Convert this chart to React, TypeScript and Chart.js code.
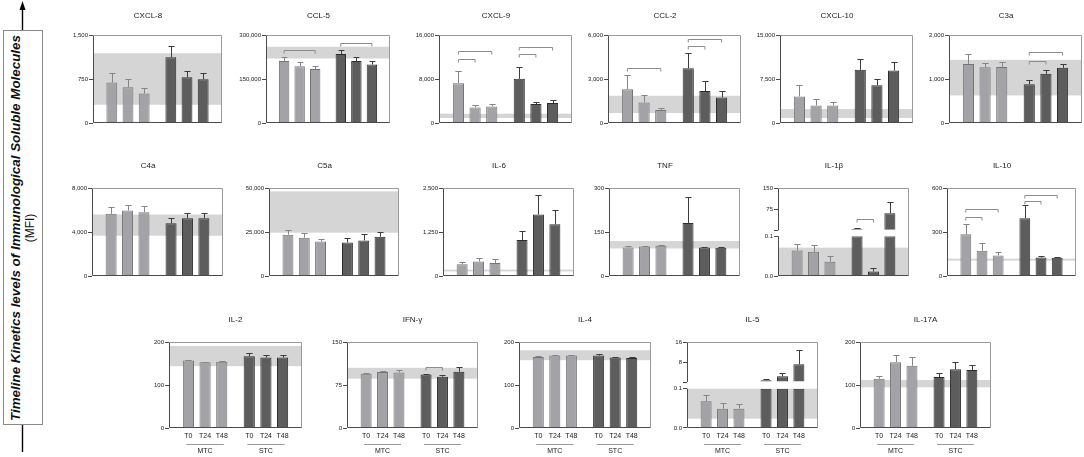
import React, { useEffect, useRef } from "react";
import { Chart, registerables } from "chart.js";

Chart.register(...registerables);

const FONT = '"Liberation Sans", Arial, Helvetica, sans-serif';
Chart.defaults.font.family = FONT;

// ---------------- data ----------------
const PANEL_NAMES = [
  "CXCL-8", "CCL-5", "CXCL-9", "CCL-2", "CXCL-10", "C3a",
  "C4a", "C5a", "IL-6", "TNF", "IL-1β", "IL-10",
  "IL-2", "IFN-γ", "IL-4", "IL-5", "IL-17A",
];
const TIME_LABELS = ["T0", "T24", "T48", "T0", "T24", "T48"];
const GROUP_LABELS = ["MTC", "STC"];
const X_POS = [0, 1, 2, 3.65, 4.65, 5.65];

const MTC_MEAN = [
  [690, 611, 504],
  [211700, 193600, 184500],
  [7245, 2838, 3019],
  [2309, 1404, 883],
  [4528, 3000, 3000],
  [1343, 1268, 1275],
  [5649, 5954, 5802],
  [23473, 21756, 19656],
  [334, 410, 372],
  [97.3, 100.8, 103],
  [0.0639, 0.0607, 0.036],
  [284, 172, 140],
  [156.9, 153, 153.8],
  [94.6, 97.5, 96.9],
  [165.4, 168.5, 168.5],
  [0.0678, 0.0492, 0.0492],
  [114.6, 153, 144.6],
];
const MTC_SD = [
  [159, 147, 90],
  [12450, 14700, 10200],
  [2295, 422, 423],
  [974, 475, 136],
  [1868, 1019, 509],
  [227, 106, 106],
  [580, 489, 519],
  [2672, 2671, 1527],
  [67, 105, 115],
  [3.5, 2.2, 2],
  [0.0164, 0.0172, 0.0132],
  [73, 50, 25],
  [1.6, 1.6, 1.6],
  [1.2, 1.2, 3.5],
  [1.6, 2.3, 2.3],
  [0.0152, 0.0144, 0.0127],
  [6.9, 17, 20.8],
];
const STC_MEAN = [
  [1121, 781, 747],
  [235500, 211700, 199200],
  [8030, 3442, 3623],
  [3736, 2174, 1743],
  [9057, 6453, 8943],
  [883, 1117, 1253],
  [4794, 5252, 5252],
  [19084, 20229, 22328],
  [1021, 1746, 1469],
  [181, 97.3, 96.2],
  [0.1, 0.0115, 0.1],
  [394, 126, 124],
  [166.9, 163.8, 163.8],
  [93.5, 89.4, 98.1],
  [168.5, 163.8, 163],
  [0.1, 0.1, 0.1],
  [118.5, 136.9, 134.6],
];
const STC_SD = [
  [198, 108, 102],
  [13500, 13600, 12500],
  [2234, 422, 603],
  [1019, 679, 453],
  [1868, 1132, 1529],
  [98, 91, 90],
  [519, 519, 458],
  [2481, 3435, 2672],
  [267, 544, 406],
  [88, 1.2, 1.1],
  [0, 0.0082, 0],
  [87, 11, 6],
  [6.9, 5.4, 6.2],
  [1.1, 2.9, 8.1],
  [4.5, 2.2, 1.6],
  [0, 0, 0],
  [8.5, 16.9, 12.3],
];
// values above the axis break (IL-1β, IL-5)
const STC_UPPER_MEAN: any[] = [
  null, null, null, null, null, null,
  null, null, null, null, [5.8, null, 61], null,
  null, null, null, [0.67, 2.27, 7.07], null,
];
const STC_UPPER_SD: any[] = [
  null, null, null, null, null, null,
  null, null, null, null, [2.2, 0, 38], null,
  null, null, null, [0.4, 1.33, 5.6], null,
];
const Y_TICKS = [
  [0, 750, 1500],
  [0, 150000, 300000],
  [0, 8000, 16000],
  [0, 3000, 6000],
  [0, 7500, 15000],
  [0, 1000, 2000],
  [0, 4000, 8000],
  [0, 25000, 50000],
  [0, 1250, 2500],
  [0, 150, 300],
  [0, 0.1],
  [0, 300, 600],
  [0, 100, 200],
  [0, 75, 150],
  [0, 100, 200],
  [0, 0.1],
  [0, 100, 200],
];
const UPPER_TICKS: any[] = [
  null, null, null, null, null, null,
  null, null, null, null, [0, 75, 150], null,
  null, null, null, [0, 8, 16], null,
];
const BAND_RANGE = [
  [311, 1189],
  [220000, 260000],
  [905, 1690],
  [679, 1857],
  [849, 2377],
  [626, 1434],
  [3664, 5588],
  [24618, 48092],
  [130, 180],
  [94, 119],
  [0, 0.0713],
  [105, 118],
  [143.8, 190.8],
  [86, 105],
  [157.7, 180.8],
  [0.0237, 0.1],
  [94.6, 111.5],
];
// [fromBar, toBar, level, onUpperAxis]
const BRACKETS: number[][][] = [
  [],
  [[0, 2, 249000], [3, 5, 271700]],
  [[0, 1, 11592], [0, 2, 13162], [3, 4, 12498], [3, 5, 13887]],
  [[0, 2, 3736], [3, 4, 5253], [3, 5, 5751]],
  [],
  [[3, 4, 1419], [3, 5, 1623]],
  [], [], [], [],
  [[3, 4, 39, 1]],
  [[0, 1, 405], [0, 2, 456], [3, 4, 513], [3, 5, 554]],
  [],
  [[3, 4, 105.6]],
  [], [], [],
];

// ---------------- layout / style ----------------
const PANEL_BOX = [
  [93, 35, 129, 88], [266, 35, 124, 88], [439, 35, 133, 88], [608, 35, 133, 88], [780, 35, 133, 88], [949, 35, 133, 88],
  [92, 188, 131, 88], [269, 188, 130, 88], [443, 188, 131, 88], [609, 188, 131, 88], [778, 188, 131, 88], [947, 188, 129, 88],
  [169, 342, 133, 86], [347, 342, 131, 86], [519, 342, 132, 86], [687, 342, 131, 86], [860, 342, 131, 86],
];
// lower part, gap, upper part (relative heights) for broken axes
const BREAK_SPLIT: any[] = [
  null, null, null, null, null, null,
  null, null, null, null, [122, 18, 130], null,
  null, null, null, [118, 20, 120], null,
];
const TITLE_DY = [19.5, 22.5, 22];
const TITLE_DX = [-9.5, -9.5, 0];
const AXIS_W = 30;
const TOP_PAD = 28;
const RIGHT_PAD = 4;
const BOTTOM_PAD = 8;
const BOTTOM_PAD_LAST = 28;

const LIGHT_FILL = "#a3a3a7";
const LIGHT_EDGE = "#747474";
const LIGHT_ERR = "#858585";
const DARK_FILL = "#5d5d5d";
const DARK_EDGE = "#2c2c2c";
const DARK_ERR = "#3c3c3c";
const BAND = "#d5d5d5";
const FRAME_LIGHT = "#9a9a9a";
const AXIS = "#4a4a4a";
const BRACKET_C = "#8c8c8c";
const TEXT = "#1a1a1a";

const rowOf = (i: number) => (i < 6 ? 0 : i < 12 ? 1 : 2);
const fmt = (v: number, max: number) => (max < 1 ? v.toFixed(1) : v.toLocaleString("en-US"));

function makePlugin(i: number) {
  const row = rowOf(i);
  return {
    id: "decor" + i,
    beforeDatasetsDraw(chart: any) {
      const { ctx, chartArea: a, scales } = chart;
      const y = scales.y;
      const lo = y.getPixelForValue(BAND_RANGE[i][0]);
      const hi = y.getPixelForValue(BAND_RANGE[i][1]);
      ctx.save();
      ctx.fillStyle = BAND;
      ctx.fillRect(a.left, hi, a.right - a.left, lo - hi);
      ctx.restore();
    },
    afterDatasetsDraw(chart: any) {
      const { ctx, scales } = chart;
      ctx.save();
      ctx.lineWidth = 1;
      chart.data.datasets.forEach((ds: any, di: number) => {
        const meta = chart.getDatasetMeta(di);
        const scale = scales[ds.yAxisID];
        meta.data.forEach((el: any, k: number) => {
          const m = ds.data[k].y;
          const sd = ds.errors ? ds.errors[k] : 0;
          if (m == null || !sd) return;
          const top = Math.round(scale.getPixelForValue(m + sd)) + 0.5;
          const x = Math.round(el.x) + 0.5;
          const half = el.width * 0.28;
          ctx.strokeStyle = ds.errColor;
          ctx.beginPath();
          ctx.moveTo(x, el.y);
          ctx.lineTo(x, top);
          ctx.moveTo(x - half, top);
          ctx.lineTo(x + half, top);
          ctx.stroke();
        });
      });
      ctx.strokeStyle = BRACKET_C;
      BRACKETS[i].forEach((b) => {
        const sc = b[3] ? scales.yUp : scales.y;
        const x1 = scales.x.getPixelForValue(X_POS[b[0]]);
        const x2 = scales.x.getPixelForValue(X_POS[b[1]]);
        const yy = Math.round(sc.getPixelForValue(b[2])) + 0.5;
        ctx.beginPath();
        ctx.moveTo(x1, yy + 3);
        ctx.lineTo(x1, yy);
        ctx.lineTo(x2, yy);
        ctx.lineTo(x2, yy + 3);
        ctx.stroke();
      });
      ctx.restore();
    },
    afterDraw(chart: any) {
      const { ctx, chartArea: a, scales } = chart;
      ctx.save();
      ctx.lineWidth = 1;
      const L = Math.round(a.left) + 0.5;
      const R = Math.round(a.right) - 0.5;
      const T = Math.round(a.top) + 0.5;
      const B = Math.round(a.bottom) - 0.5;
      ctx.strokeStyle = FRAME_LIGHT;
      ctx.beginPath();
      ctx.moveTo(L, T);
      ctx.lineTo(R, T);
      ctx.lineTo(R, B);
      ctx.stroke();
      ctx.strokeStyle = AXIS;
      ctx.beginPath();
      ctx.moveTo(L, B);
      ctx.lineTo(R, B);
      if (scales.yUp) {
        ctx.moveTo(L, B);
        ctx.lineTo(L, scales.y.getPixelForValue(Y_TICKS[i][Y_TICKS[i].length - 1]));
        ctx.moveTo(L, scales.yUp.getPixelForValue(0));
        ctx.lineTo(L, T);
      } else {
        ctx.moveTo(L, B);
        ctx.lineTo(L, T);
      }
      ctx.stroke();
      // title
      ctx.fillStyle = TEXT;
      ctx.font = `8px ${FONT}`;
      ctx.textAlign = "center";
      ctx.textBaseline = "middle";
      ctx.fillText(PANEL_NAMES[i], (a.left + a.right) / 2 + TITLE_DX[row], a.top - TITLE_DY[row]);
      // time-point labels and group labels (bottom row)
      if (row === 2) {
        ctx.font = `7px ${FONT}`;
        TIME_LABELS.forEach((t, k) => {
          ctx.fillText(t, scales.x.getPixelForValue(X_POS[k]), a.bottom + 8);
        });
        ctx.strokeStyle = "#9a9a9a";
        GROUP_LABELS.forEach((g, gi) => {
          const x1 = scales.x.getPixelForValue(X_POS[gi * 3]) - 2;
          const x2 = scales.x.getPixelForValue(X_POS[gi * 3 + 2]) + 2;
          const yy = Math.round(a.bottom + 16) + 0.5;
          ctx.beginPath();
          ctx.moveTo(x1, yy);
          ctx.lineTo(x2, yy);
          ctx.stroke();
          ctx.fillText(g, (x1 + x2) / 2, a.bottom + 22.8);
        });
      }
      ctx.restore();
    },
  };
}

function yAxis(ticks: number[], min: number, max: number, extra: any) {
  return {
    type: "linear",
    position: "left",
    min,
    max,
    grid: { drawOnChartArea: false, tickLength: 4, color: AXIS, lineWidth: 1 },
    border: { display: false },
    ticks: {
      font: { size: 6, family: FONT },
      color: TEXT,
      padding: 1,
      autoSkip: false,
      maxRotation: 0,
      callback: (v: number) => (v === 0 && extra.blankZero ? "" : fmt(v, max)),
    },
    afterBuildTicks: (s: any) => {
      s.ticks = ticks.map((v) => ({ value: v }));
    },
    afterFit: (s: any) => {
      s.width = AXIS_W;
    },
    ...(extra.stack || {}),
  };
}

function buildConfig(i: number): any {
  const upper = STC_UPPER_MEAN[i];
  const pts = (xs: number[], ys: (number | null)[]) => xs.map((x, k) => ({ x, y: ys[k] }));
  const bar = (label: string, data: any[], fill: string, edge: string, errColor: string, errors: any, axis: string) => ({
    type: "bar",
    label,
    data,
    backgroundColor: fill,
    borderColor: edge,
    borderWidth: 1,
    grouped: false,
    barPercentage: 0.67,
    categoryPercentage: 1,
    yAxisID: axis,
    errors,
    errColor,
  });
  const datasets: any[] = [
    bar("MTC", pts(X_POS.slice(0, 3), MTC_MEAN[i]), LIGHT_FILL, LIGHT_EDGE, LIGHT_ERR, MTC_SD[i], "y"),
    bar("STC", pts(X_POS.slice(3), STC_MEAN[i]), DARK_FILL, DARK_EDGE, DARK_ERR, STC_SD[i], "y"),
  ];
  const yt = Y_TICKS[i];
  const yMax = yt[yt.length - 1];
  const scales: any = {
    x: {
      type: "linear",
      min: -0.5,
      max: 6.15,
      grid: { display: false },
      border: { display: false },
      ticks: { display: false },
      afterBuildTicks: (s: any) => {
        s.ticks = X_POS.map((v) => ({ value: v }));
      },
      afterFit: (s: any) => {
        s.height = 0;
      },
    },
  };
  if (upper) {
    const [lw, gw, uw] = BREAK_SPLIT[i];
    const ut = UPPER_TICKS[i];
    const uMax = ut[ut.length - 1];
    const uMin = (-gw / uw) * uMax;
    scales.y = yAxis(yt, 0, yMax, { stack: { stack: "brk", stackWeight: lw } });
    scales.yUp = yAxis(ut, uMin, uMax, { blankZero: true, stack: { stack: "brk", stackWeight: gw + uw } });
    datasets.push(bar("STC upper", pts(X_POS.slice(3), upper), DARK_FILL, DARK_EDGE, DARK_ERR, STC_UPPER_SD[i], "yUp"));
  } else {
    scales.y = yAxis(yt, 0, yMax, {});
  }
  return {
    type: "bar",
    data: { datasets },
    options: {
      responsive: false,
      animation: false,
      events: [],
      layout: {
        padding: {
          top: TOP_PAD,
          left: 0,
          right: RIGHT_PAD,
          bottom: rowOf(i) === 2 ? BOTTOM_PAD_LAST : BOTTOM_PAD,
        },
      },
      plugins: { legend: { display: false }, tooltip: { enabled: false }, title: { display: false } },
      scales,
    },
    plugins: [makePlugin(i)],
  };
}

function Panel({ i }: { i: number }) {
  const ref = useRef<HTMLCanvasElement>(null);
  const [pl, pt, pw, ph] = PANEL_BOX[i];
  const row = rowOf(i);
  const w = pw + AXIS_W + RIGHT_PAD;
  const h = ph + TOP_PAD + (row === 2 ? BOTTOM_PAD_LAST : BOTTOM_PAD);
  useEffect(() => {
    const chart = new Chart(ref.current as HTMLCanvasElement, buildConfig(i));
    return () => chart.destroy();
  }, [i]);
  return (
    <canvas
      ref={ref}
      width={w}
      height={h}
      style={{ position: "absolute", left: pl - AXIS_W, top: pt - TOP_PAD, width: w, height: h }}
    />
  );
}

export default function App() {
  return (
    <div
      style={{
        position: "fixed",
        left: 0,
        top: 0,
        width: 1084,
        height: 457,
        overflow: "hidden",
        background: "#ffffff",
        fontFamily: FONT,
      }}
    >
      <svg width={1084} height={457} style={{ position: "absolute", left: 0, top: 0 }}>
        <line x1={22.5} y1={8} x2={22.5} y2={452} stroke="#000" strokeWidth={1.4} />
        <polygon points="22.5,1 19.5,10 25.5,10" fill="#000" />
      </svg>
      <div
        style={{
          position: "absolute",
          left: 3,
          top: 30,
          width: 40,
          height: 395,
          border: "1px solid #8a8a8a",
          boxSizing: "border-box",
          background: "#fff",
        }}
      >
        <div
          style={{
            position: "absolute",
            left: "50%",
            top: "50%",
            transform: "translate(-50%, -50%) rotate(-90deg)",
            whiteSpace: "nowrap",
            textAlign: "center",
            fontSize: 12,
            lineHeight: "15px",
            color: "#111",
          }}
        >
          <div style={{ fontWeight: "bold", fontStyle: "italic", fontSize: 13.4 }}>
            Timeline Kinetics levels of Immunological Soluble Molecules
          </div>
          <div>(MFI)</div>
        </div>
      </div>
      {PANEL_NAMES.map((_n, i) => (
        <Panel key={i} i={i} />
      ))}
    </div>
  );
}
